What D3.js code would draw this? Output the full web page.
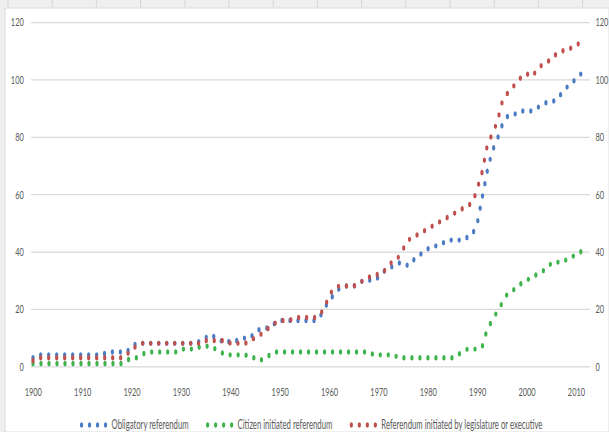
<!DOCTYPE html>
<html>
<head>
<meta charset="utf-8">
<script src="https://cdn.jsdelivr.net/npm/d3@7"></script>
<style>
  html, body { margin: 0; padding: 0; background: #ffffff; }
  svg { display: block; }
  text { font-family: Lato, "Open Sans", "Liberation Sans", sans-serif; fill: #595959; }
</style>
</head>
<body>
<svg id="chart" width="609" height="432"></svg>
<script>
// Number of countries using each type of referendum, per year
const years = d3.range(1900, 2013);

const obligatory = [
  3, 4, 4, 4, 4, 4, 4, 4, 4, 4,          // 1900s
  4, 4, 4, 4, 4, 5, 5, 5, 5, 5,          // 1910s
  7, 8, 8, 8, 8, 8, 8, 8, 8, 8,          // 1920s
  8, 8, 8, 8, 9, 10, 11, 10, 9, 8,       // 1930s
  9, 9, 9, 10, 10, 12, 13, 13, 14, 15,   // 1940s
  16, 16, 16, 16, 16, 16, 16, 16, 17, 20, // 1950s
  23, 25, 27, 28, 28, 28, 29, 30, 30, 30, // 1960s
  31, 33, 34, 35, 36, 36, 35, 37, 38, 40, // 1970s
  41, 42, 42, 43, 44, 44, 44, 44, 45, 46, // 1980s
  50, 59, 68, 75, 79, 84, 87, 88, 88, 89, // 1990s
  89, 89, 90, 91, 92, 92, 93, 95, 97, 99, // 2000s
  100, 102, 103                           // 2010s
];

const citizenInitiated = [
  1, 1, 1, 1, 1, 1, 1, 1, 1, 1,
  1, 1, 1, 1, 1, 1, 1, 1, 1, 2,
  3, 3, 4, 5, 5, 5, 5, 5, 5, 5,
  6, 6, 6, 6, 7, 7, 7, 6, 5, 4,
  4, 4, 4, 4, 3, 3, 2, 3, 4, 5,
  5, 5, 5, 5, 5, 5, 5, 5, 5, 5,
  5, 5, 5, 5, 5, 5, 5, 5, 5, 4,
  4, 4, 4, 4, 3, 3, 3, 3, 3, 3,
  3, 3, 3, 3, 3, 3, 4, 5, 6, 6,
  6, 7, 13, 16, 19, 22, 25, 26, 28, 29,
  30, 31, 32, 33, 34, 36, 36, 37, 37, 38,
  39, 40, 40
];

const legislatureInitiated = [
  2, 3, 3, 3, 3, 3, 3, 3, 3, 3,
  3, 3, 3, 3, 3, 3, 3, 3, 3, 4,
  6, 7, 8, 8, 8, 8, 8, 8, 8, 8,
  8, 8, 8, 8, 8, 9, 9, 9, 9, 9,
  8, 8, 8, 8, 9, 10, 11, 12, 14, 15,
  16, 16, 16, 17, 17, 17, 17, 17, 18, 20,
  25, 27, 28, 28, 28, 28, 29, 30, 31, 32,
  32, 33, 35, 37, 38, 41, 44, 45, 46, 47,
  48, 49, 50, 51, 52, 53, 54, 55, 56, 57,
  62, 68, 77, 81, 85, 92, 95, 97, 99, 101,
  102, 101, 103, 105, 106, 107, 109, 110, 110, 111,
  112, 113, 113
];

const seriesNames = [
  "Obligatory referendum",
  "Citizen initiated referendum",
  "Referendum initiated by legislature or executive"
];
const seriesColors = ["#4a7bc4", "#3db34b", "#c0504d"];
const yTicks = [0, 20, 40, 60, 80, 100, 120];
const xTickYears = [1900, 1910, 1920, 1930, 1940, 1950, 1960, 1970, 1980, 1990, 2000, 2010];

// The whole figure is laid out in a wide frame and compressed horizontally.
const SX = 0.62;
const W = 609, H = 432;
const px = v => v / SX;          // screen x -> frame x
const FONT = "Lato, 'Open Sans', sans-serif";
const TICK_SIZE = 12;
const LEGEND_SIZE = 12.5;

const svg = d3.select("#chart");

// sheet background with column separators along the top
svg.append("rect").attr("width", W).attr("height", H).attr("fill", "#efefef");
const sep = svg.append("g");
for (let cx = 8; cx < W; cx += 44.2) {
  sep.append("line").attr("x1", cx).attr("x2", cx).attr("y1", 0).attr("y2", 7)
    .attr("stroke", "#d4d4d4").attr("stroke-width", 1);
}
svg.append("rect").attr("x", 5).attr("y", 8).attr("width", W - 5).attr("height", H - 8)
  .attr("fill", "#ffffff").attr("stroke", "#dcdcdc").attr("stroke-width", 1);

const g = svg.append("g").attr("transform", `scale(${SX},1)`);

const x = d3.scalePoint().domain(years).range([px(33), px(586)]);
const y = d3.scaleLinear().domain([0, 120]).range([366.3, 22.1]);

const gridLeft = px(31), gridRight = px(590);

// horizontal gridlines
g.append("g")
  .attr("transform", `translate(${gridLeft},0)`)
  .call(d3.axisLeft(y).tickValues(yTicks).tickSize(-(gridRight - gridLeft)).tickFormat(""))
  .call(a => a.select(".domain").remove())
  .call(a => a.selectAll("line").attr("stroke", "#d9d9d9").attr("stroke-width", 1.3));

const styleLabels = a => a.selectAll("text")
  .attr("font-size", TICK_SIZE).style("fill", "#595959").style("font-family", FONT);

// left and right value labels
g.append("g")
  .attr("transform", `translate(${px(23.8)},0)`)
  .call(d3.axisLeft(y).tickValues(yTicks).tickSize(0).tickPadding(0))
  .call(a => a.select(".domain").remove())
  .call(styleLabels);

g.append("g")
  .attr("transform", `translate(${px(595.5)},0)`)
  .call(d3.axisRight(y).tickValues(yTicks).tickSize(0).tickPadding(0))
  .call(a => a.select(".domain").remove())
  .call(styleLabels);

// year labels
g.append("g")
  .attr("transform", `translate(0,383)`)
  .call(d3.axisBottom(x).tickValues(xTickYears).tickSize(0).tickPadding(4))
  .call(a => a.select(".domain").remove())
  .call(styleLabels);

// dotted series lines
const DOT_GAP = 12.9;
const DOT_W = 5.4;
const seriesValues = [obligatory, citizenInitiated, legislatureInitiated];
const line = d3.line().x((d, i) => x(years[i])).y(d => y(d));

g.append("g").selectAll("path")
  .data(seriesValues)
  .join("path")
  .attr("d", d => line(d))
  .attr("fill", "none")
  .attr("stroke", (d, i) => seriesColors[i])
  .attr("stroke-width", DOT_W)
  .attr("stroke-linecap", "round")
  .attr("stroke-dasharray", `0 ${DOT_GAP}`);

// legend
const legend = g.append("g").attr("transform", "translate(0,425)");
const markerLen = DOT_GAP * 3;
const items = [];
seriesNames.forEach((name, i) => {
  const it = legend.append("g");
  it.append("path")
    .attr("d", `M0,0H${markerLen}`)
    .attr("stroke", seriesColors[i])
    .attr("stroke-width", DOT_W)
    .attr("stroke-linecap", "round")
    .attr("stroke-dasharray", `0 ${DOT_GAP}`);
  const t = it.append("text")
    .attr("x", markerLen + px(6))
    .attr("dy", "0.35em")
    .attr("font-size", LEGEND_SIZE)
    .style("font-family", FONT)
    .text(name);
  const w = markerLen + px(6) + t.node().getComputedTextLength();
  items.push({ it, w });
});
const itemGap = px(19);
const total = d3.sum(items, d => d.w) + itemGap * (items.length - 1);
let cursor = px(312) - total / 2;
items.forEach(({ it, w }) => {
  it.attr("transform", `translate(${cursor},0)`);
  cursor += w + itemGap;
});
</script>
</body>
</html>
